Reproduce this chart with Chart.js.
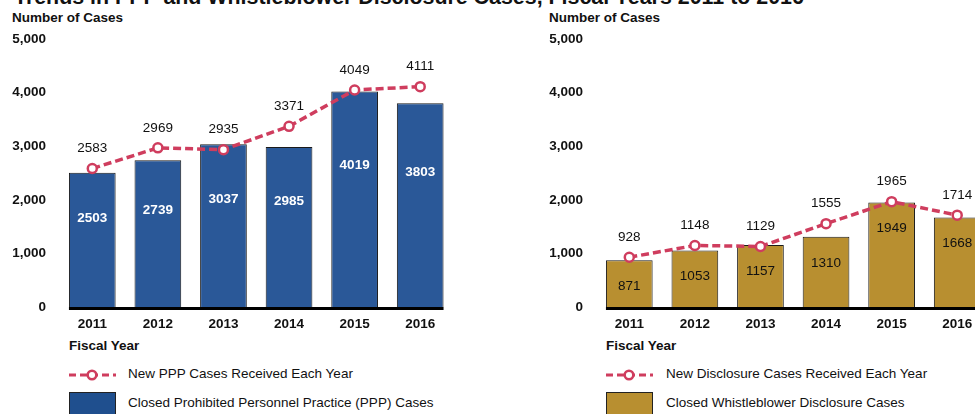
<!DOCTYPE html>
<html>
<head>
<meta charset="utf-8">
<script src="https://cdn.jsdelivr.net/npm/chart.js@4/dist/chart.umd.min.js"></script>
<style>
  html, body { margin: 0; padding: 0; background: #fff; }
  body { width: 975px; height: 414px; overflow: hidden; position: relative; font-family: "Liberation Sans", Arial, sans-serif; color: #111; }
  .abs { position: absolute; white-space: nowrap; }
  .title { font-weight: bold; font-size: 21.4px; line-height: 21px; left: 14px; top: -13px; }
  .lbl { font-weight: bold; font-size: 13.5px; line-height: 13.5px; }
  .leg { font-size: 13.5px; line-height: 13.5px; }
  canvas { position: absolute; top: 0; }
  .box { position: absolute; width: 45px; height: 30px; border: 1px solid #222; }
</style>
</head>
<body>
<div class="abs title">Trends in PPP and Whistleblower Disclosure Cases, Fiscal Years 2011 to 2016</div>

<div class="abs lbl" style="left:12px;top:10.5px">Number of Cases</div>
<div class="abs lbl" style="left:69px;top:339px">Fiscal Year</div>
<svg class="abs" style="left:69px;top:368px" width="48" height="14"><line x1="0" y1="7" x2="47" y2="7" stroke="#cf3d5e" stroke-width="3" stroke-dasharray="7,4"/><circle cx="23" cy="7" r="4.3" fill="#fff" stroke="#cf3d5e" stroke-width="2.5"/></svg>
<div class="abs leg" style="left:128px;top:367px">New PPP Cases Received Each Year</div>
<div class="box" style="left:69px;top:392px;background:#1f4f8e"></div>
<div class="abs leg" style="left:128px;top:396px">Closed Prohibited Personnel Practice (PPP) Cases</div>

<div class="abs lbl" style="left:549px;top:10.5px">Number of Cases</div>
<div class="abs lbl" style="left:606px;top:339px">Fiscal Year</div>
<svg class="abs" style="left:606px;top:368px" width="48" height="14"><line x1="0" y1="7" x2="47" y2="7" stroke="#cf3d5e" stroke-width="3" stroke-dasharray="7,4"/><circle cx="23" cy="7" r="4.3" fill="#fff" stroke="#cf3d5e" stroke-width="2.5"/></svg>
<div class="abs leg" style="left:666px;top:367px">New Disclosure Cases Received Each Year</div>
<div class="box" style="left:606px;top:392px;background:#b88f30"></div>
<div class="abs leg" style="left:666px;top:396px">Closed Whistleblower Disclosure Cases</div>

<canvas id="pppChart" width="460" height="336" style="left:0px"></canvas>
<canvas id="discChart" width="460" height="336" style="left:537px"></canvas>

<script>
const years = ['2011', '2012', '2013', '2014', '2015', '2016'];
const pppClosed = [2503, 2739, 3037, 2985, 4019, 3803];
const pppNew = [2583, 2969, 2935, 3371, 4049, 4111];
const discClosed = [871, 1053, 1157, 1310, 1949, 1668];
const discNew = [928, 1148, 1129, 1555, 1965, 1714];
const yTicks = [0, 1000, 2000, 3000, 4000, 5000];

const FONT = '"Liberation Sans", Arial, sans-serif';
const LINE_RED = '#cf3d5e';

// draws value labels + thick baseline under the bars
const labelPlugin = {
    id: 'valueLabels',
    afterDatasetsDraw(chart, args, opts) {
        const ctx = chart.ctx;
        const barMeta = chart.getDatasetMeta(1);
        const lineMeta = chart.getDatasetMeta(0);
        const yScale = chart.scales.y;
        const zeroY = yScale.getPixelForValue(0);

        ctx.save();
        // baseline
        const first = barMeta.data[0], last = barMeta.data[barMeta.data.length - 1];
        ctx.strokeStyle = '#000';
        ctx.lineWidth = 3;
        ctx.beginPath();
        ctx.moveTo(first.x - first.width / 2, zeroY + 1.5);
        ctx.lineTo(last.x + last.width / 2, zeroY + 1.5);
        ctx.stroke();

        ctx.textAlign = 'center';
        ctx.textBaseline = 'middle';

        // bar labels
        ctx.fillStyle = opts.barColor;
        ctx.font = opts.barWeight + ' 13.5px ' + FONT;
        barMeta.data.forEach((bar, i) => {
            const v = chart.data.datasets[1].data[i];
            const h = zeroY - bar.y;
            const y = opts.barFrac ? bar.y + h * opts.barFrac : bar.y + opts.barOffset;
            ctx.fillText(String(v), bar.x, y);
        });

        // line labels
        ctx.fillStyle = '#111';
        ctx.font = '13.5px ' + FONT;
        lineMeta.data.forEach((pt, i) => {
            const v = chart.data.datasets[0].data[i];
            ctx.fillText(String(v), pt.x, pt.y - 20);
        });
        ctx.restore();
    }
};

function makeChart(id, closed, received, barColor, labelOpts) {
    const ctx = document.getElementById(id).getContext('2d');
    return new Chart(ctx, {
        type: 'bar',
        data: {
            labels: years,
            datasets: [{
                type: 'line',
                data: received,
                borderColor: LINE_RED,
                borderWidth: 3.5,
                borderDash: [8, 4],
                pointRadius: 4.5,
                pointBorderWidth: 2.5,
                pointBackgroundColor: '#fff',
                pointBorderColor: LINE_RED,
                tension: 0,
                order: 0
            }, {
                type: 'bar',
                data: closed,
                backgroundColor: barColor,
                borderColor: '#1a1a1a',
                borderWidth: 1,
                barPercentage: 0.712,
                categoryPercentage: 1,
                order: 1
            }]
        },
        options: {
            responsive: false,
            animation: false,
            devicePixelRatio: 1,
            layout: { padding: { top: 39, right: 4.5, left: 0, bottom: 0 } },
            plugins: {
                legend: { display: false },
                tooltip: { enabled: false },
                valueLabels: labelOpts
            },
            scales: {
                x: {
                    grid: { display: false, drawTicks: false },
                    border: { display: false },
                    ticks: { color: '#111', font: { family: FONT, size: 13.5, weight: 'bold' }, padding: 9 },
                    afterFit: s => { s.height = 29; }
                },
                y: {
                    min: 0,
                    max: 5000,
                    afterBuildTicks: s => { s.ticks = yTicks.map(v => ({ value: v })); },
                    grid: { display: false, drawTicks: false },
                    border: { display: false },
                    ticks: {
                        color: '#111',
                        font: { family: FONT, size: 13.5, weight: 'bold' },
                        padding: 13.5,
                        callback: v => v.toLocaleString('en-US')
                    },
                    afterFit: s => { s.width = 59.5; }
                }
            }
        },
        plugins: [labelPlugin]
    });
}

makeChart('pppChart', pppClosed, pppNew, '#2a5898', { barColor: '#fff', barWeight: 'bold', barFrac: 0.34 });
makeChart('discChart', discClosed, discNew, '#b88f30', { barColor: '#111', barWeight: 'normal', barOffset: 26 });
</script>
</body>
</html>
